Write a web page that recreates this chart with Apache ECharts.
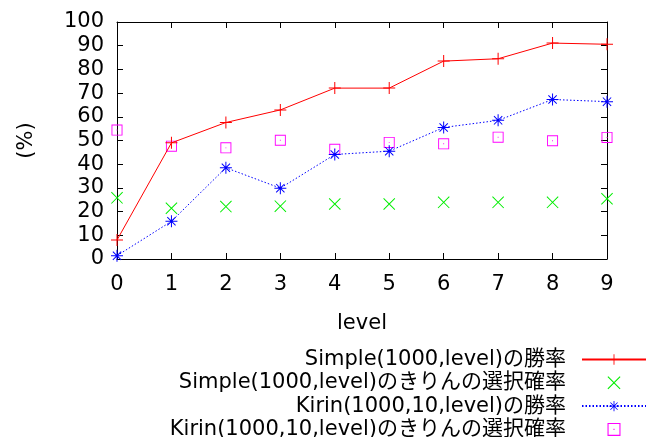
<!DOCTYPE html>
<html><head><meta charset="utf-8">
<script src="https://cdn.jsdelivr.net/npm/echarts@6/dist/echarts.min.js"></script>
<style>html,body{margin:0;padding:0;background:#fff}#c{width:660px;height:437px}</style>
</head><body><div id="c"></div>
<script>
const levels = [0,1,2,3,4,5,6,7,8,9];
const simpleWin = [8.0, 49.0, 57.6, 62.9, 72.1, 72.1, 83.5, 84.5, 91.1, 90.6];
const simpleKirin = [25.8, 21.4, 22.1, 22.3, 23.2, 23.2, 23.9, 23.9, 23.9, 25.4];
const kirinWin = [1.4, 15.9, 38.5, 29.9, 44.1, 45.5, 55.5, 58.5, 67.3, 66.4];
const kirinKirin = [54.4, 47.6, 46.9, 50.1, 46.3, 49.2, 48.6, 51.4, 49.9, 51.3];
const seriesNames = [
  'Simple(1000,level)の勝率',
  'Simple(1000,level)のきりんの選択確率',
  'Kirin(1000,10,level)の勝率',
  'Kirin(1000,10,level)のきりんの選択確率'
];
const yTicks = [0,10,20,30,40,50,60,70,80,90,100];
const xTicks = levels;

const FONT = '"DejaVu Sans", "Noto Sans CJK JP", sans-serif';
const FS = 21;
const pair = arr => levels.map((x, i) => [x, arr[i]]);

const PLUS = 'path://M5.5,0H6.5V5.5H12V6.5H6.5V12H5.5V6.5H0V5.5H5.5Z';
const CROSS = 'path://M0,0.7L0.7,0L12,11.3L11.3,12Z M11.3,0L12,0.7L0.7,12L0,11.3Z';
const STAR = 'path://M5.5,0H6.5V5.5H12V6.5H6.5V12H5.5V6.5H0V5.5H5.5Z M1.5,2.2L2.2,1.5L10.5,9.8L9.8,10.5Z M9.8,1.5L10.5,2.2L2.2,10.5L1.5,9.8Z';
const SQUARE = 'path://M0,0H12V12H0Z M1,1V11H11V1Z M5.5,5.5H6.5V6.5H5.5Z';

const chart = echarts.init(document.getElementById('c'), null, {renderer: 'canvas'});
const axisCommon = {
  axisLine: {show: true, onZero: false, lineStyle: {color: '#000', width: 1}},
  axisTick: {show: true, inside: true, length: 6, lineStyle: {color: '#000'}},
  splitLine: {show: false}
};
chart.setOption({
  animation: false,
  backgroundColor: '#fff',
  textStyle: {fontFamily: FONT},
  grid: {left: 117, right: 53, top: 22, bottom: 178},
  xAxis: [
    Object.assign({}, axisCommon, {
      type: 'value', min: 0, max: 9, interval: 1, position: 'bottom',
      name: 'level', nameLocation: 'middle', nameGap: 54,
      nameTextStyle: {fontSize: FS, color: '#000', fontFamily: FONT},
      axisLabel: {fontSize: FS, color: '#000', margin: 15, fontFamily: FONT,
        formatter: v => xTicks.includes(v) ? String(v) : ''}
    }),
    Object.assign({}, axisCommon, {
      type: 'value', min: 0, max: 9, interval: 1, position: 'top',
      axisLabel: {show: false}
    })
  ],
  yAxis: [
    Object.assign({}, axisCommon, {
      type: 'value', min: 0, max: 100, interval: 10, position: 'left',
      name: '(%)', nameLocation: 'middle', nameGap: 80, nameRotate: 90,
      nameTextStyle: {fontSize: FS, color: '#000', fontFamily: FONT},
      axisLabel: {fontSize: FS, color: '#000', margin: 13, fontFamily: FONT,
        formatter: v => yTicks.includes(v) ? String(v) : ''}
    }),
    Object.assign({}, axisCommon, {
      type: 'value', min: 0, max: 100, interval: 10, position: 'right',
      axisLabel: {show: false}
    })
  ],
  legend: {
    orient: 'vertical', align: 'right', right: 13, top: 349, padding: 0,
    height: 120, width: 600,
    itemWidth: 64, itemHeight: 13, itemGap: 2.3,
    textStyle: {fontSize: FS, color: '#000', fontFamily: FONT, lineHeight: 20, padding: [0, 11, 0, 0]},
    data: seriesNames
  },
  series: [
    {
      name: seriesNames[0], type: 'line', data: pair(simpleWin),
      symbol: PLUS, symbolSize: 12, color: '#ff0000',
      lineStyle: {color: '#ff0000', width: 1, type: 'solid'},
      itemStyle: {color: '#ff0000'}
    },
    {
      name: seriesNames[1], type: 'scatter', data: pair(simpleKirin),
      symbol: CROSS, symbolSize: 12, color: '#00ee00',
      itemStyle: {color: '#00ee00', opacity: 1}
    },
    {
      name: seriesNames[2], type: 'line', data: pair(kirinWin),
      symbol: STAR, symbolSize: 12, color: '#0000ff',
      lineStyle: {color: '#0000ff', width: 1, type: [1.5, 2]},
      itemStyle: {color: '#0000ff'}
    },
    {
      name: seriesNames[3], type: 'scatter', data: pair(kirinKirin),
      symbol: SQUARE, symbolSize: 11, color: '#ff00ff',
      itemStyle: {color: '#ff00ff', opacity: 1}
    }
  ]
});
</script></body></html>
